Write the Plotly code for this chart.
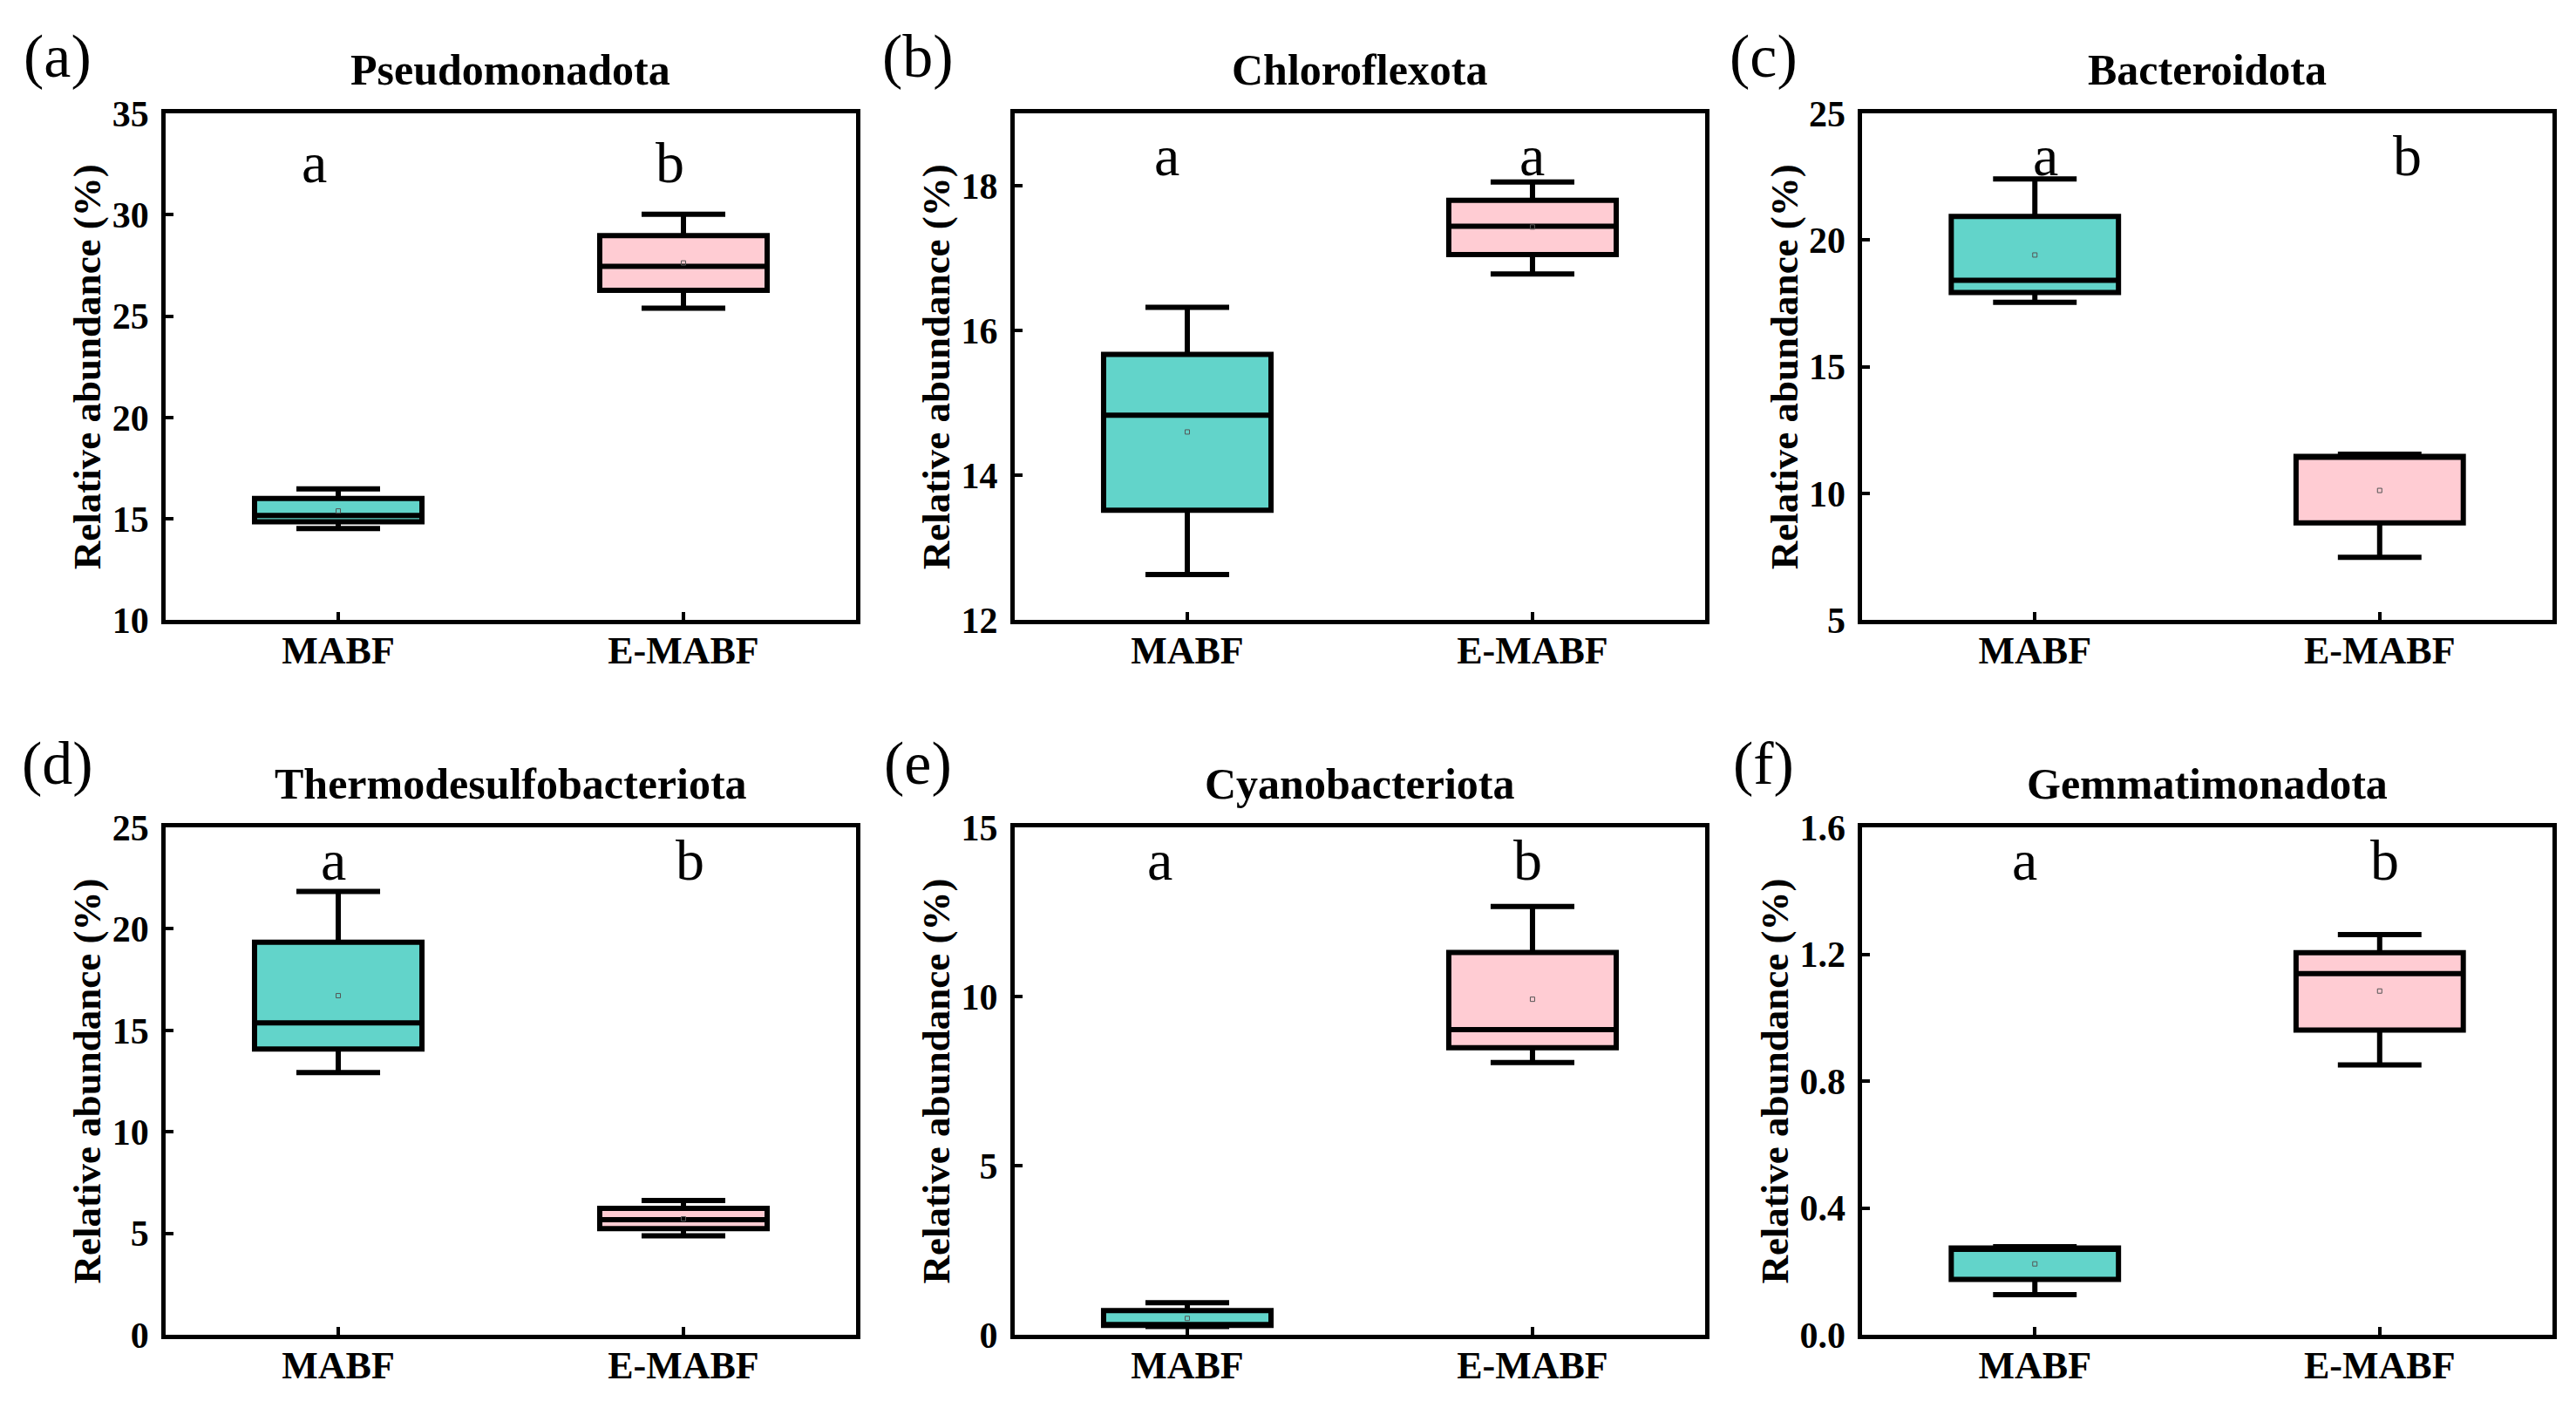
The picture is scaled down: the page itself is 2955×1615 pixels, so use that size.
import plotly.graph_objects as go
from plotly.subplots import make_subplots

# Groupes et phyla
groups = ["MABF", "E-MABF"]
phyla = ["Pseudomonadota", "Chloroflexota", "Bacteroidota",
         "Thermodesulfobacteriota", "Cyanobacteriota", "Gemmatimonadota"]
panel_tags = ["(a)", "(b)", "(c)", "(d)", "(e)", "(f)"]
sig_mabf = ["a", "a", "a", "a", "a", "a"]
sig_emabf = ["b", "a", "b", "b", "b", "b"]

# Statistiques des boites
mabf_low = [14.52, 12.63, 17.54, 12.92, 0.25, 0.127]
mabf_q1 = [14.85, 13.52, 17.93, 14.08, 0.28, 0.175]
mabf_med = [15.17, 14.83, 18.41, 15.37, 0.30, 0.270]
mabf_q3 = [16.00, 15.67, 20.93, 19.34, 0.72, 0.274]
mabf_high = [16.48, 16.32, 22.41, 21.84, 0.95, 0.278]
mabf_mean = [15.39, 14.60, 19.41, 16.71, 0.49, 0.224]

emabf_low = [25.39, 16.78, 7.48, 4.88, 8.05, 0.851]
emabf_q1 = [26.27, 17.05, 8.84, 5.24, 8.49, 0.961]
emabf_med = [27.45, 17.44, 11.46, 5.68, 9.02, 1.139]
emabf_q3 = [28.97, 17.80, 11.46, 6.24, 11.30, 1.205]
emabf_high = [30.02, 18.05, 11.55, 6.62, 12.66, 1.262]
emabf_mean = [27.62, 17.43, 10.12, 5.72, 9.92, 1.084]

# Axes y
y_min = [10, 12, 5, 0, 0, 0]
y_max = [35, 19, 25, 25, 15, 1.6]
y_step = [5, 2, 5, 5, 5, 0.4]

teal = "#62D4CA"
pink = "#FFCCD3"
font_name = "Liberation Serif"

fig = make_subplots(rows=2, cols=3)

# Positions des zones de tracé (en fraction de la page)
col_domains = [[0.0616, 0.3296], [0.3912, 0.6592], [0.7203, 0.9880]]
row_domains = [[0.5657, 0.9363], [0.0432, 0.4143]]
tag_x = [0.0196, 0.3536, 0.682]
tag_y = [0.978, 0.4614]
# placement des lettres de significativité (décalage en catégories, hauteur dans le cadre)
letter_dx = [[-0.07, -0.04], [-0.06, 0.0], [0.03, 0.08],
             [-0.015, 0.02], [-0.08, -0.015], [-0.03, 0.015]]
letter_y = [0.903, 0.917, 0.917, 0.935, 0.935, 0.935]

for i in range(6):
    r = i // 3
    c = i % 3
    stats = [
        (groups[0], mabf_low[i], mabf_q1[i], mabf_med[i], mabf_q3[i], mabf_high[i], teal),
        (groups[1], emabf_low[i], emabf_q1[i], emabf_med[i], emabf_q3[i], emabf_high[i], pink),
    ]
    for g, lo, q1, med, q3, hi, col in stats:
        fig.add_trace(go.Box(
            x=[g], q1=[q1], median=[med], q3=[q3], lowerfence=[lo], upperfence=[hi],
            fillcolor=col, line=dict(color="black", width=6),
            whiskerwidth=0.5, width=0.485, boxpoints=False,
            showlegend=False, hoverinfo="skip"), row=r + 1, col=c + 1)
    # Moyennes (petits carrés)
    fig.add_trace(go.Scatter(
        x=groups, y=[mabf_mean[i], emabf_mean[i]], mode="markers",
        marker=dict(symbol="square-open", size=5, color="#555555", line=dict(width=1)),
        showlegend=False, hoverinfo="skip"), row=r + 1, col=c + 1)

    ax = "" if i == 0 else str(i + 1)
    fig.update_xaxes(domain=col_domains[c], type="category", categoryorder="array",
                     categoryarray=groups, range=[-0.5, 1.5],
                     showline=True, linecolor="black", linewidth=5, mirror=True,
                     ticks="inside", ticklen=9, tickwidth=4, tickcolor="black",
                     showgrid=False, zeroline=False, ticklabelstandoff=-8,
                     tickfont=dict(family=font_name, size=44, color="black", weight="bold"),
                     row=r + 1, col=c + 1)
    fig.update_yaxes(domain=row_domains[r], range=[y_min[i], y_max[i]],
                     tick0=y_min[i], dtick=y_step[i],
                     tickformat=".1f" if y_step[i] < 1 else "d",
                     showline=True, linecolor="black", linewidth=5, mirror=True,
                     ticks="inside", ticklen=9, tickwidth=4, tickcolor="black",
                     showgrid=False, zeroline=False, ticklabelstandoff=6,
                     tickfont=dict(family=font_name, size=42, color="black", weight="bold"),
                     title=dict(text="Relative abundance (%)", standoff=0,
                                font=dict(family=font_name, size=45, color="black", weight="bold")),
                     row=r + 1, col=c + 1)

    # Titre du panneau
    fig.add_annotation(text=phyla[i], xref="x" + ax + " domain", yref="y" + ax + " domain",
                       x=0.5, y=1, yanchor="bottom", yshift=20, showarrow=False,
                       font=dict(family=font_name, size=50, color="black", weight="bold"))
    # Lettre du panneau
    fig.add_annotation(text=panel_tags[i], xref="paper", yref="paper",
                       x=tag_x[c], y=tag_y[r], xanchor="center", yanchor="middle",
                       showarrow=False,
                       font=dict(family=font_name, size=70, color="black"))
    # Lettres de significativité
    for k, s in enumerate([sig_mabf[i], sig_emabf[i]]):
        fig.add_annotation(text=s, xref="x" + ax, yref="y" + ax + " domain",
                           x=k + letter_dx[i][k], y=letter_y[i], yanchor="middle",
                           showarrow=False,
                           font=dict(family=font_name, size=66, color="black"))

fig.update_layout(width=2955, height=1615, margin=dict(l=0, r=0, t=0, b=0),
                  plot_bgcolor="white", paper_bgcolor="white", boxmode="overlay")

fig.write_html("out.html")
